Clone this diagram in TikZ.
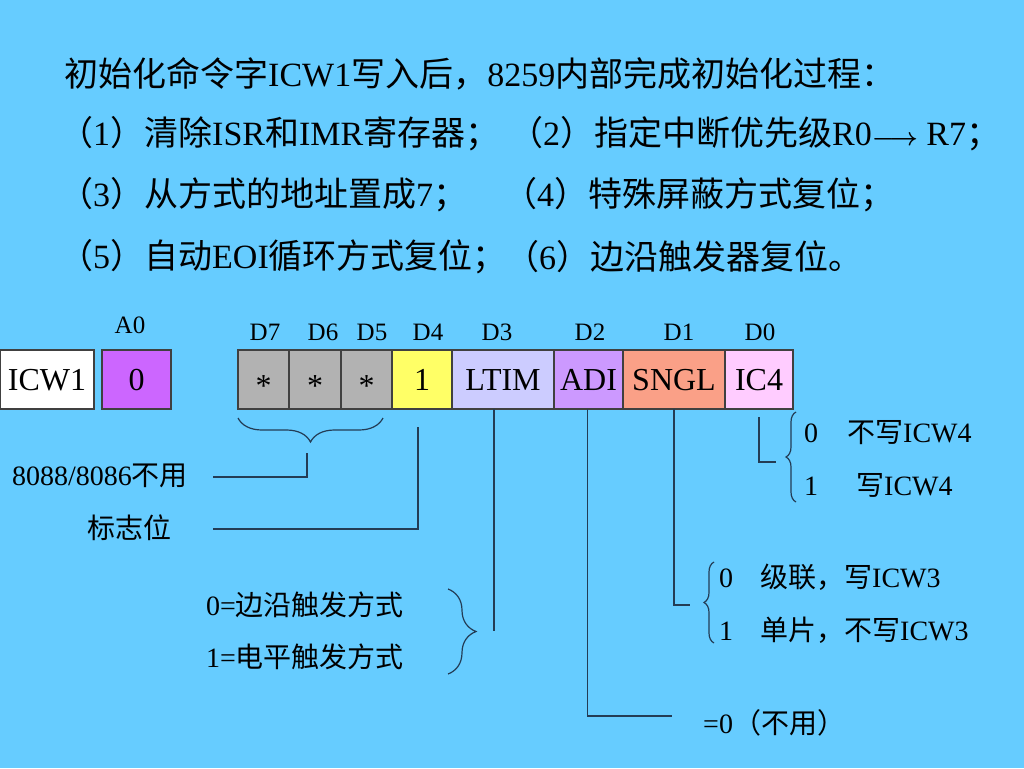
\documentclass[tikz,border=0pt]{standalone}
\usepackage{fontspec}
\setmainfont{Liberation Serif}
\newfontfamily\zhfont{Noto Sans CJK SC}
\usepackage{tikz}
\usetikzlibrary{chains, positioning}
\usetikzlibrary{decorations.pathreplacing}
\definecolor{slideBg}{RGB}{102, 204, 255}
\definecolor{boxLine}{RGB}{64, 64, 64}
\definecolor{wireColor}{RGB}{35, 60, 85}
\definecolor{starGray}{RGB}{178, 178, 178}
\definecolor{flagYellow}{RGB}{255, 255, 102}
\definecolor{addrBox}{RGB}{204, 102, 255}
\definecolor{ltimBox}{RGB}{204, 204, 255}
\definecolor{adiBox}{RGB}{204, 153, 255}
\definecolor{snglBox}{RGB}{250, 160, 135}
\definecolor{icBox}{RGB}{255, 204, 255}
% Chinese characters switch to the CJK family by themselves
\newXeTeXintercharclass\zhclass
\newcount\zhcode
\newcommand{\setzhrange}[2]{\zhcode=#1\relax
  \loop\XeTeXcharclass\zhcode=\zhclass\relax
  \ifnum\zhcode<#2\relax\advance\zhcode by 1\repeat}
\setzhrange{"3000}{"303F}
\setzhrange{"4E00}{"9FFF}
\setzhrange{"FF00}{"FFEF}
\XeTeXinterchartoks 0 \zhclass = {\zhfont}
\XeTeXinterchartoks 4095 \zhclass = {\zhfont}
\XeTeXinterchartoks \zhclass 0 = {\rmfamily}
\XeTeXinterchartoks 4095 0 = {\rmfamily}
\XeTeXinterchartokenstate=1
\newcommand{\starbit}{\raisebox{-6pt}{*}}

\begin{document}
\begin{tikzpicture}[
    x = 1pt, y = -1pt,
    node distance = 0pt,
    box/.style = {draw=boxLine, line width=1.2pt, minimum height=59pt,
        text height=21pt, text depth=0pt,
        inner sep=0pt, outer sep=0pt, font=\fontsize{32}{36}\selectfont},
    cell/.style = {box, on chain},
    bit/.style = {inner sep=0pt, font=\fontsize{25}{30}\selectfont},
    head/.style = {anchor=west, inner sep=0pt, font=\fontsize{34}{40}\selectfont},
    note/.style = {inner sep=0pt, font=\fontsize{28}{32}\selectfont},
    wire/.style = {draw=wireColor, line width=1.2pt},
    curly/.style = {wire, decorate, decoration={brace, amplitude=#1}}
  ]
  \fill[slideBg] (0,0) rectangle (1024,768);
  \useasboundingbox (0,0) rectangle (1024,768);

  % heading lines
  \node[head] (L1) at (64,74) {初始化命令字ICW1写入后，8259内部完成初始化过程：};
  \node[head] (L2a) at (59,134) {（1）清除ISR和IMR寄存器；};
  \node[head] (L2b) at (509,134) {（2）指定中断优先级R0{\boldmath$\longrightarrow$} R7；};
  \node[head] (L3a) at (59,195) {（3）从方式的地址置成7；};
  \node[head] (L3b) at (503,195) {（4）特殊屏蔽方式复位；};
  \node[head] (L4a) at (59,257) {（5）自动EOI循环方式复位；};
  \node[head] (L4b) at (505,257) {（6）边沿触发器复位。};

  % the register
  \node[box, fill=white, minimum width=94pt] (ICW) at (47,379.5) {ICW1};
  \node[box, fill=addrBox, minimum width=69pt] (A0) at (136.5,379.5) {0};
  \begin{scope}[start chain=going right, shift={(263.5,379.5)}]
    \foreach \txt/\w/\c/\nm in {\starbit/51/starGray/D7, \starbit/52/starGray/D6,
        \starbit/51/starGray/D5, 1/60/flagYellow/D4, LTIM/102/ltimBox/LTIM,
        ADI/69/adiBox/ADI, SNGL/102/snglBox/SNGL, IC4/68/icBox/IC4}
    \node[cell, minimum width=\w pt, fill=\c] (\nm) {\txt};
  \end{scope}

  \node[bit] (lblA0) at (130,325) {A0};
  \foreach \nm/\x in {D7/265, D6/323, D5/372, D4/428, D3/497, D2/590, D1/679, D0/760}
    \node[bit] (lbl\nm) at (\x,332) {\nm};

  % D7..D5
  \draw[curly=24pt] (383,418) -- (238,418);
  \coordinate (resTop) at (307,453);
  \coordinate (resEnd) at (213,477);
  \draw[wire] (resTop) |- (resEnd);
  \node[note, anchor=east] (resLbl) at (188,476) {8088/8086不用};

  % D4
  \coordinate (flagTop) at (418,427);
  \coordinate (flagEnd) at (213,529);
  \draw[wire] (flagTop) |- (flagEnd);
  \node[note, anchor=east] (flagLbl) at (172,528) {标志位};

  % D3
  \coordinate (ltimEnd) at (494,631);
  \draw[wire] ([xshift=-9pt]LTIM.south) -- (ltimEnd);
  \draw[curly=28pt] (448,589) -- (448,674);
  \node[note, anchor=west] (edgeLbl) at (206,605) {0=边沿触发方式};
  \node[note, anchor=west] (levelLbl) at (206,657) {1=电平触发方式};

  % D2
  \coordinate (adiEnd) at (672,716);
  \draw[wire] ([xshift=-1pt]ADI.south) |- (adiEnd);
  \node[note, anchor=west] (adiLbl) at (703,723) {=0（不用）};

  % D1
  \coordinate (snglEnd) at (690,605);
  \draw[wire] (SNGL.south) |- (snglEnd);
  \draw[curly=10pt] (714,643) -- (714,562);
  \node[note, anchor=west] (cascLbl) at (719,577) {0\hspace{27pt}级联，写ICW3};
  \node[note, anchor=west] (singleLbl) at (719,630) {1\hspace{27pt}单片，不写ICW3};

  % D0
  \coordinate (icTop) at (759,417);
  \coordinate (icEnd) at (776,462);
  \draw[wire] (icTop) |- (icEnd);
  \draw[curly=10pt] (796,502) -- (796,412);
  \node[note, anchor=west] (noIcw) at (804,433) {0\hspace{29pt}不写ICW4};
  \node[note, anchor=west] (yesIcw) at (804,485) {1\hspace{38pt}写ICW4};
\end{tikzpicture}
\end{document}
